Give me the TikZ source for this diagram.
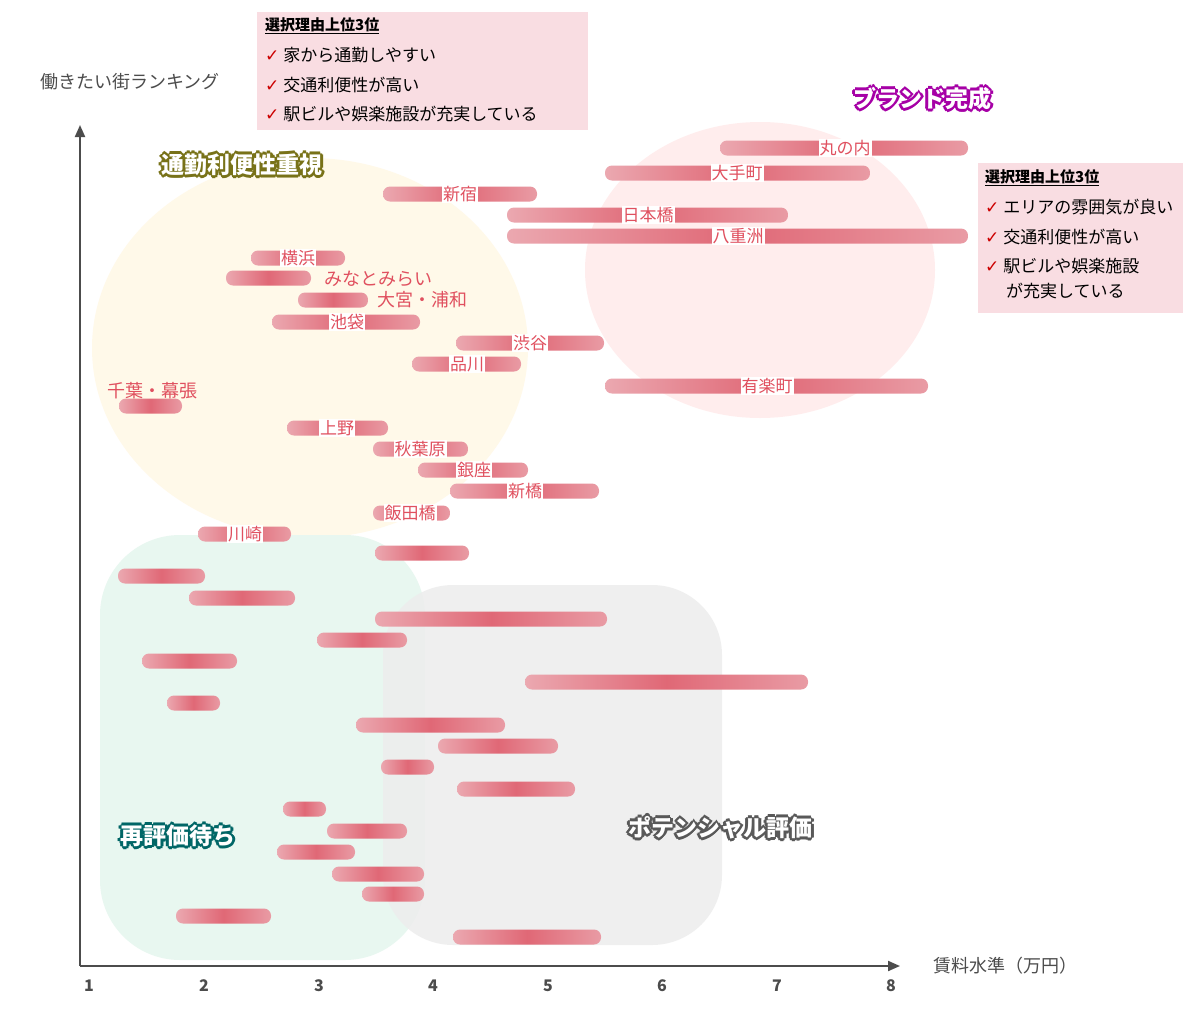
\documentclass[tikz,border=0pt]{standalone}
\usepackage{fontspec}
\setmainfont{Noto Sans CJK JP}
\newfontfamily\dv{DejaVu Sans}
\usetikzlibrary{arrows.meta}
\definecolor{barL}{HTML}{EBA8B0}
\definecolor{barM}{HTML}{E06876}
\definecolor{lab}{HTML}{E0505F}
\definecolor{boxbg}{HTML}{F9DDE2}
\tikzset{
 lbl/.style={fill=white,inner sep=1pt,text=lab,font=\fontsize{17}{19}\selectfont},
 boxtxt/.style={anchor=west,font=\fontsize{17}{20}\selectfont,inner sep=0pt},
}
\newcommand{\rbar}[3]{\shade[left color=barL,right color=barL!80!barM,middle color=barM,rounded corners=7pt] (#1,#3-7.5) rectangle (#2,#3+7.5);}
\newcommand{\gl}[3]{\rlap{\hspace*{#1pt}\raisebox{#2pt}{#3}}}
\newcommand{\glow}[5]{%
 \node[font=\fontsize{23}{25}\selectfont\bfseries] (#5) at (#1,#2) {\color{#3}%
 \gl{-2}{0}{#4}\gl{2}{0}{#4}\gl{0}{2}{#4}\gl{0}{-2}{#4}\gl{-1.5}{-1.5}{#4}\gl{1.5}{1.5}{#4}\gl{-1.5}{1.5}{#4}\gl{1.5}{-1.5}{#4}\gl{-3}{0}{#4}\gl{3}{0}{#4}\gl{0}{3}{#4}\gl{0}{-3}{#4}%
 \color{white}#4};}
\begin{document}
\begin{tikzpicture}[x=1pt,y=-1pt]
\useasboundingbox[fill=white] (0,0) rectangle (1200,1010);
% regions
\fill[yellow!50!orange!8] (310,348) ellipse (218 and 190);
\fill[red!7] (760,270) ellipse (175 and 148);
\fill[cyan!40!green!9] (100,535) [rounded corners=80pt] rectangle (425,960);
\fill[black!7,opacity=0.85,rounded corners=70pt] (383,585) rectangle (722,945);
% axes
\draw[line width=2pt,black!70,-{Triangle[length=12pt,width=10pt]}] (80,966) coordinate(o) -- (900,966) coordinate(xe);
\draw[line width=2pt,black!70,-{Triangle[length=12pt,width=10pt]}] (o) -- (80,125) coordinate(ye);
\foreach \i/\x in {1/89,2/204,3/319,4/433,5/548,6/662,7/777,8/891}
 \node[font=\fontsize{16}{18}\selectfont\bfseries,text=black!70] (t\i) at (\x,986) {\i};
\node[font=\fontsize{18}{20}\selectfont,text=black!70] (xl) at (1005,966) {賃料水準（万円）};
\node[font=\fontsize{18}{20}\selectfont,text=black!70] (yl) at (130,82) {働きたい街ランキング};
% bars
\rbar{720}{968}{148}\rbar{605}{870}{173}\rbar{383}{537}{194}\rbar{507}{788}{215}\rbar{507}{968}{236}
\rbar{251}{345}{258}\rbar{226}{311}{278}\rbar{298}{368}{300}\rbar{272}{420}{322}\rbar{456}{604}{343}
\rbar{412}{521}{364}\rbar{605}{928}{386}\rbar{119}{182}{406}\rbar{287}{388}{428}\rbar{373}{468}{449}
\rbar{418}{528}{470}\rbar{450}{599}{491}\rbar{373}{450}{513}\rbar{198}{291}{534}
\rbar{375}{469}{553}\rbar{118}{205}{576}\rbar{189}{295}{598}\rbar{375}{607}{619}\rbar{317}{407}{640}
\rbar{142}{237}{661}\rbar{525}{808}{682}\rbar{167}{220}{703}\rbar{356}{505}{725}\rbar{438}{558}{746}
\rbar{381}{434}{767}\rbar{457}{575}{789}\rbar{283}{326}{809}\rbar{327}{407}{831}\rbar{277}{355}{852}
\rbar{332}{424}{874}\rbar{362}{424}{894}\rbar{176}{271}{916}\rbar{453}{601}{937}
% labels
\node[lbl] (n1) at (845,148) {丸の内};
\node[lbl] (n2) at (737,173) {大手町};
\node[lbl] (n3) at (460,194) {新宿};
\node[lbl] (n4) at (648,215) {日本橋};
\node[lbl] (n5) at (738,236) {八重洲};
\node[lbl] (n6) at (298,258) {横浜};
\node[text=lab,font=\fontsize{18}{19}\selectfont] (n7) at (378,279) {みなとみらい};
\node[text=lab,font=\fontsize{18}{19}\selectfont] (n8) at (422,300) {大宮・浦和};
\node[lbl] (n9) at (347,322) {池袋};
\node[lbl] (n10) at (530,343) {渋谷};
\node[lbl] (n11) at (467,364) {品川};
\node[lbl] (n12) at (767,386) {有楽町};
\node[text=lab,font=\fontsize{18}{19}\selectfont] (n13) at (152,391) {千葉・幕張};
\node[lbl] (n14) at (337,428) {上野};
\node[lbl] (n15) at (420,449) {秋葉原};
\node[lbl] (n16) at (474,470) {銀座};
\node[lbl] (n17) at (525,491) {新橋};
\node[lbl] (n18) at (410,513) {飯田橋};
\node[lbl] (n19) at (245,534) {川崎};
% titles
\glow{242}{165}{olive!80!black}{通勤利便性重視}{g1}
\glow{922}{99}{violet!70!magenta}{ブランド完成}{g2}
\glow{178}{836}{teal!80!black}{再評価待ち}{g3}
\glow{720}{828}{black!65}{ポテンシャル評価}{g4}
% boxes
\fill[boxbg] (257,12) rectangle (588,130);
\node[boxtxt,font=\fontsize{15}{18}\selectfont\bfseries] (h1) at (265,26) {\underline{選択理由上位3位}};
\node[boxtxt] (a1) at (265,55) {{\dv\color{red!80!black}✓} 家から通勤しやすい};
\node[boxtxt] (a2) at (265,85) {{\dv\color{red!80!black}✓} 交通利便性が高い};
\node[boxtxt] (a3) at (265,114) {{\dv\color{red!80!black}✓} 駅ビルや娯楽施設が充実している};
\fill[boxbg] (978,163) rectangle (1183,313);
\node[boxtxt,font=\fontsize{15}{18}\selectfont\bfseries] (h2) at (985,178) {\underline{選択理由上位3位}};
\node[boxtxt] (b1) at (985,207) {{\dv\color{red!80!black}✓} エリアの雰囲気が良い};
\node[boxtxt] (b2) at (985,237) {{\dv\color{red!80!black}✓} 交通利便性が高い};
\node[boxtxt] (b3) at (985,266) {{\dv\color{red!80!black}✓} 駅ビルや娯楽施設};
\node[boxtxt] (b4) at (1006,291) {が充実している};
\end{tikzpicture}
\end{document}
